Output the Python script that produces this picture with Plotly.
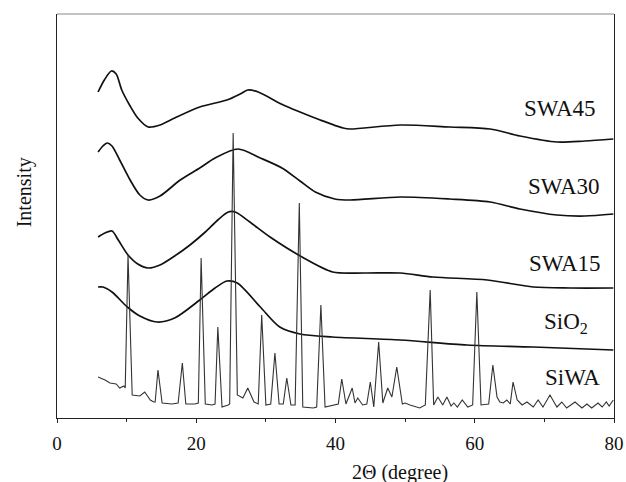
import plotly.graph_objects as go

# XRD patterns, 2-theta in degrees; intensities are offset, arbitrary units
swa45_2theta = [5.9, 6.8, 7.8, 8.5, 9.3, 10.5, 11.6, 13.1, 14.8, 16.9, 20.5, 24.4, 26.3, 27.4,
                28.9, 32.5, 34.9, 37.8, 41.1, 42.1, 49.3, 56.4, 62.2, 66.5, 71.8, 75.8, 79.9]
swa45_int = [326, 338, 347, 344, 328, 312, 300, 291, 293, 300, 311, 318, 324, 328,
             326, 313, 306, 298, 290, 289, 293, 291, 289, 282, 276, 277, 279]

swa30_2theta = [5.9, 6.6, 7.2, 7.9, 9.0, 10.5, 11.9, 13.1, 14.8, 17.7, 20.5, 22.7, 26.0, 29.2,
                32.3, 34.9, 37.1, 39.9, 42.1, 49.3, 56.4, 62.2, 66.5, 71.8, 75.8, 79.9]
swa30_int = [266, 272, 275, 272, 258, 238, 223, 218, 222, 238, 250, 260, 269, 260,
             250, 237, 226, 219, 218, 221, 219, 216, 209, 203, 202, 204]

swa15_2theta = [5.9, 6.9, 7.9, 8.8, 10.2, 11.6, 13.1, 14.8, 16.9, 19.1, 21.3, 23.1, 24.6, 25.6,
                27.7, 30.6, 35.2, 39.6, 44.2, 49.3, 54.0, 61.8, 68.4, 73.7, 79.9]
swa15_int = [181, 185, 187, 178, 163, 154, 150, 153, 162, 173, 186, 198, 206, 206,
             196, 181, 161, 146, 145, 145, 141, 138, 131, 130, 130]

sio2_2theta = [5.9, 6.6, 7.9, 10.1, 11.9, 14.4, 16.9, 20.5, 22.7, 24.4, 25.9, 29.2, 32.0,
               34.9, 39.6, 49.3, 58.9, 68.4, 79.9]
sio2_int = [131, 131, 126, 111, 102, 96, 100, 118, 130, 137, 135, 111, 91,
            84, 81, 78, 73, 71, 68]

siwa_2theta = [5.9, 6.9, 7.6, 8.5, 9.0, 9.6, 9.8, 10.2, 10.8, 11.9, 12.6, 13.4, 13.9,
               14.1, 14.5, 15.1, 16.5, 17.4, 18.0, 18.5, 19.8, 20.3, 20.7, 21.3, 22.3,
               22.7, 23.1, 23.7, 24.6, 24.8, 25.3, 25.9, 26.7, 27.4, 28.3, 28.9, 29.4,
               30.0, 30.7, 31.3, 31.9, 32.5, 33.0, 33.6, 34.2, 34.8, 35.3, 36.8, 37.3,
               37.9, 38.5, 39.6, 40.4, 40.9, 41.5, 42.4, 42.8, 43.2, 43.9, 44.5, 45.0,
               45.5, 46.2, 46.8, 47.5, 48.1, 48.8, 49.6, 50.0, 50.7, 52.1, 52.9, 53.6,
               54.1, 54.7, 55.4, 56.0, 56.6, 57.0, 57.5, 58.2, 59.0, 59.7, 60.3, 60.9,
               62.0, 62.6, 63.2, 63.6, 64.1, 64.6, 65.1, 65.5, 66.1, 66.8, 67.5, 68.4,
               69.1, 69.8, 70.8, 71.8, 72.5, 73.2, 74.4, 75.4, 76.1, 76.8, 77.7, 78.3,
               78.9, 79.3, 79.9]
siwa_int = [41, 38, 35, 34, 30, 32, 30, 163, 23, 22, 26, 18, 16,
            16, 48, 15, 14, 15, 55, 14, 14, 15, 160, 14, 13,
            14, 91, 11, 13, 14, 285, 23, 20, 30, 16, 14, 103,
            13, 14, 65, 14, 14, 40, 13, 13, 215, 11, 10, 11,
            113, 11, 13, 14, 39, 14, 30, 15, 20, 13, 14, 36,
            11, 76, 15, 30, 21, 51, 14, 15, 13, 10, 13, 128,
            13, 21, 13, 21, 12, 15, 11, 18, 11, 13, 126, 13,
            14, 53, 21, 16, 15, 18, 14, 36, 18, 13, 16, 11,
            18, 11, 23, 11, 16, 10, 16, 10, 14, 10, 15, 11,
            16, 12, 18]

sample_names = ["SWA45", "SWA30", "SWA15", "SiO<sub>2</sub>", "SiWA"]
label_2theta = [77.7, 78.3, 78.4, 76.6, 78.3]
label_int = [310, 232, 155, 95, 41]

x_ticks = [0, 20, 40, 60, 80]

SERIF = "Liberation Serif, Times New Roman, serif"

fig = go.Figure()

amorphous = [(swa45_2theta, swa45_int, "SWA45"),
             (swa30_2theta, swa30_int, "SWA30"),
             (swa15_2theta, swa15_int, "SWA15"),
             (sio2_2theta, sio2_int, "SiO2")]
for xs, ys, name in amorphous:
    fig.add_trace(go.Scatter(x=xs, y=ys, mode="lines", name=name,
                             line=dict(color="#111111", width=1.7, shape="spline", smoothing=0.8),
                             showlegend=False, hoverinfo="skip"))

fig.add_trace(go.Scatter(x=siwa_2theta, y=siwa_int, mode="lines", name="SiWA",
                         line=dict(color="#333333", width=1.1),
                         showlegend=False, hoverinfo="skip"))

for name, lx, ly in zip(sample_names, label_2theta, label_int):
    fig.add_annotation(x=lx, y=ly, xref="x", yref="y", text=name, showarrow=False,
                       xanchor="right", yanchor="middle",
                       font=dict(family=SERIF, size=23, color="#111111"))

fig.add_annotation(x=0.616, y=-0.134, xref="paper", yref="paper", text="2Θ (degree)",
                   showarrow=False, xanchor="center", yanchor="middle",
                   font=dict(family=SERIF, size=20, color="#111111"))
fig.add_annotation(x=-0.059, y=0.559, xref="paper", yref="paper", text="Intensity",
                   showarrow=False, textangle=-90, xanchor="center", yanchor="middle",
                   font=dict(family=SERIF, size=20, color="#111111"))

# top edge of the frame, drawn lighter than the other three sides
fig.add_shape(type="line", xref="paper", yref="paper", x0=0, x1=1, y0=1, y1=1,
              line=dict(color="#888888", width=1.2))

fig.update_xaxes(range=[0, 80], tickvals=x_ticks, ticktext=[str(v) for v in x_ticks],
                 ticks="outside", ticklen=4, tickcolor="#222222", ticklabelstandoff=4,
                 minor=dict(dtick=10, ticks="outside", ticklen=3, tickcolor="#222222"),
                 showline=True, linecolor="#222222", linewidth=1.3, mirror=False,
                 showgrid=False, zeroline=False, automargin=False,
                 tickfont=dict(family=SERIF, size=19, color="#111111"))
fig.update_yaxes(range=[0, 404], showticklabels=False, ticks="",
                 showline=True, linecolor="#222222", linewidth=1.3, mirror=True,
                 showgrid=False, zeroline=False, automargin=False)

fig.update_layout(width=626, height=482,
                  margin=dict(l=57, r=12, t=14, b=64, autoexpand=False),
                  plot_bgcolor="white", paper_bgcolor="white")

fig.write_html("out.html")
